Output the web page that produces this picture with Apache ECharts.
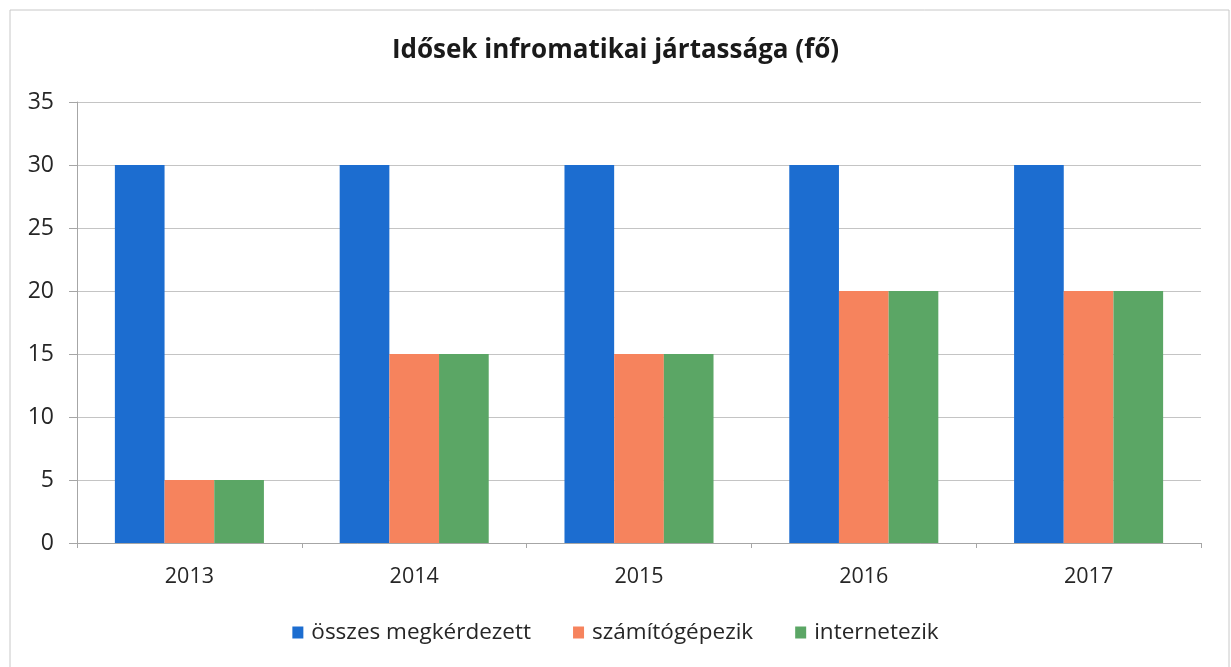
<!DOCTYPE html>
<html>
<head>
<meta charset="utf-8">
<script src="https://cdn.jsdelivr.net/npm/echarts@6/dist/echarts.min.js"></script>
<style>
  html, body { margin: 0; padding: 0; background: #ffffff; }
  #chart { width: 1231px; height: 667px; }
</style>
</head>
<body>
<div id="chart"></div>
<script>
// Survey of elderly people's computer skills, by year
const years = ['2013', '2014', '2015', '2016', '2017'];
const osszes = [30, 30, 30, 30, 30];
const szamitogepezik = [5, 15, 15, 20, 20];
const internetezik = [5, 15, 15, 20, 20];
const seriesNames = ['összes megkérdezett', 'számítógépezik', 'internetezik'];
const yTicks = { min: 0, max: 35, interval: 5 };

const font = 'Open Sans, Noto Sans, sans-serif';
const chart = echarts.init(document.getElementById('chart'), null, { renderer: 'canvas' });

chart.setOption({
  backgroundColor: '#ffffff',
  animation: false,
  color: ['#1c6dd0', '#f6835d', '#5ba665'],
  title: {
    text: 'Idősek infromatikai jártassága (fő)',
    left: 'center',
    top: 33,
    textStyle: { fontFamily: font, fontSize: 26, fontWeight: 'bold', color: '#1a1a1a' }
  },
  graphic: [{
    type: 'rect',
    shape: { x: 10, y: 10, width: 1219, height: 670 },
    style: { fill: 'none', stroke: '#c8c8c8', lineWidth: 1 },
    silent: true,
    z: -1
  }],
  legend: {
    bottom: 18,
    left: 'center',
    itemWidth: 11,
    itemHeight: 12,
    itemGap: 42,
    icon: 'rect',
    textStyle: { fontFamily: font, fontSize: 22.5, color: '#262626', padding: [0, 0, 0, 3] },
    data: seriesNames
  },
  grid: { left: 77, right: 30, top: 102, bottom: 124 },
  xAxis: {
    type: 'category',
    data: years,
    axisLine: { lineStyle: { color: '#a6a6a6', width: 1 } },
    axisTick: { show: true, length: 5, lineStyle: { color: '#a6a6a6' } },
    axisLabel: { fontFamily: font, fontSize: 21.5, color: '#262626', margin: 23 }
  },
  yAxis: {
    type: 'value',
    min: yTicks.min,
    max: yTicks.max,
    interval: yTicks.interval,
    axisLine: { show: true, lineStyle: { color: '#a6a6a6', width: 1 } },
    axisTick: { show: true, length: 8, lineStyle: { color: '#a6a6a6' } },
    axisLabel: { fontFamily: font, fontSize: 23, color: '#262626', margin: 23 },
    splitLine: { lineStyle: { color: '#c4c4c4', width: 1 } }
  },
  series: [
    { name: seriesNames[0], type: 'bar', data: osszes, barGap: '0%', barCategoryGap: '33.7%' },
    { name: seriesNames[1], type: 'bar', data: szamitogepezik, barGap: '0%', barCategoryGap: '33.7%' },
    { name: seriesNames[2], type: 'bar', data: internetezik, barGap: '0%', barCategoryGap: '33.7%' }
  ]
});
</script>
</body>
</html>
